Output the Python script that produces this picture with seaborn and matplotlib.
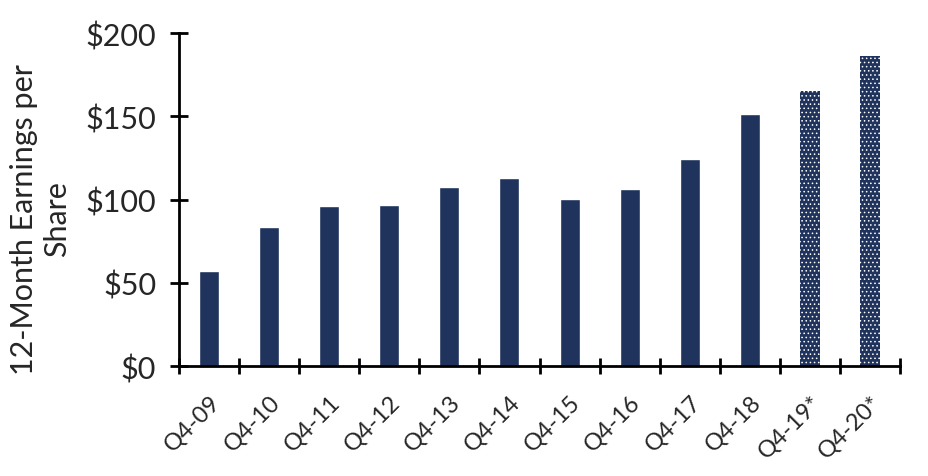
import numpy as np
import pandas as pd
import matplotlib
matplotlib.use('Agg')
import matplotlib.pyplot as plt
import seaborn as sns

quarters = ['Q4-09', 'Q4-10', 'Q4-11', 'Q4-12', 'Q4-13', 'Q4-14',
            'Q4-15', 'Q4-16', 'Q4-17', 'Q4-18', 'Q4-19*', 'Q4-20*']
eps = [57, 83.5, 96, 96.7, 107.5, 113, 100.3, 106.3, 124.3, 151.4, 165, 186]
estimated = [False] * 10 + [True] * 2

sns.set_style('white')
plt.rcParams['font.family'] = ['Lato', 'DejaVu Sans']
plt.rcParams['hatch.linewidth'] = 0.6

df = pd.DataFrame({'quarter': quarters, 'eps': eps})
navy = '#1f335c'
txt = '#262626'

fig = plt.figure(figsize=(9.29, 4.77), dpi=100)
ax = fig.add_axes([0.1927, 0.2306, 0.7761, 0.6981])
sns.barplot(data=df, x='quarter', y='eps', color=navy, saturation=1,
            width=1/3, ax=ax)

# forecast bars get the dotted fill
for patch, est in zip(ax.patches, estimated):
    if est:
        patch.set_hatch('....')
        patch.set_edgecolor('white')
        patch.set_linewidth(0)

ax.set_ylim(0, 200)
ax.set_xlim(-0.5, len(quarters) - 0.5)
ax.set_yticks([0, 50, 100, 150, 200])
ax.set_yticklabels(['$0', '$50', '$100', '$150', '$200'], fontsize=22, color=txt)
ax.set_xticks(np.arange(len(quarters)))
ax.set_xticklabels(quarters, rotation=45, ha='right', rotation_mode='anchor',
                   fontsize=17, color=txt)
ax.set_xticks(np.arange(-0.5, len(quarters), 1), minor=True)
ax.tick_params(axis='x', which='major', bottom=True, length=0, pad=18)
ax.tick_params(axis='x', which='minor', bottom=True, direction='inout',
               length=11, width=2, color='black')
ax.tick_params(axis='y', left=True, direction='inout', length=13, width=2,
               color='black', pad=10)

for side in ['top', 'right']:
    ax.spines[side].set_visible(False)
for side in ['left', 'bottom']:
    ax.spines[side].set_linewidth(2)
    ax.spines[side].set_color('black')

ax.set_xlabel('')
ax.set_ylabel('12-Month Earnings per\nShare', fontsize=22, color=txt, linespacing=1.2)
ax.yaxis.set_label_coords(-0.15, 0.444)

plt.savefig('out.png', dpi=100)
